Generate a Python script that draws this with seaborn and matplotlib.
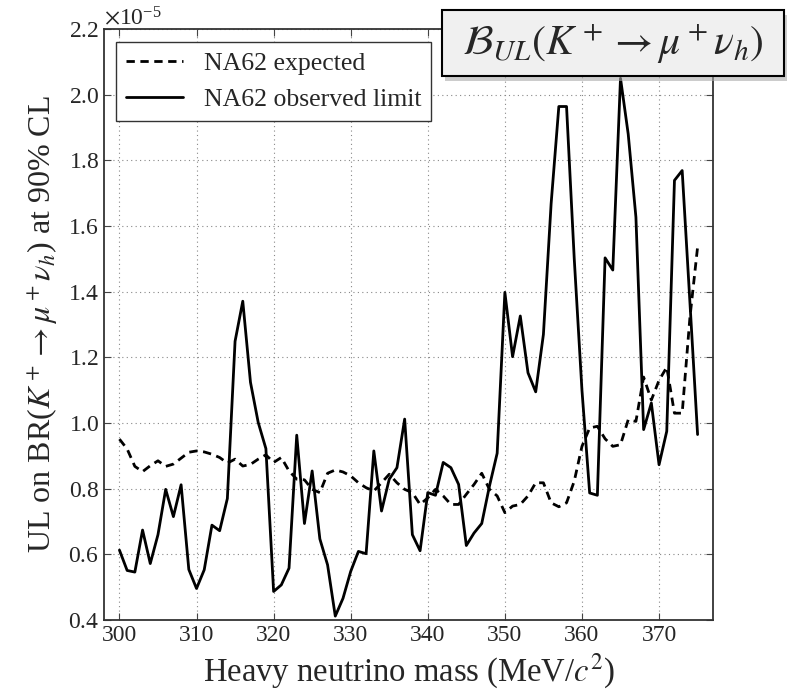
import numpy as np
import pandas as pd
import seaborn as sns
import matplotlib.pyplot as plt
from matplotlib.patches import Rectangle

sns.set_style('ticks')
plt.rcParams['font.family'] = ['Liberation Serif', 'DejaVu Serif']
plt.rcParams['mathtext.fontset'] = 'stix'

# heavy neutrino mass grid (MeV/c^2)
mass = list(range(300, 376))

# UL on BR, in units of 1e-5
observed = [0.613, 0.551, 0.546, 0.674, 0.572, 0.660, 0.798, 0.715, 0.812, 0.554,
            0.496, 0.553, 0.689, 0.672, 0.770, 1.249, 1.371, 1.124, 1.002, 0.922,
            0.487, 0.507, 0.558, 0.963, 0.694, 0.854, 0.647, 0.568, 0.412, 0.466,
            0.548, 0.609, 0.602, 0.915, 0.732, 0.829, 0.864, 1.012, 0.660, 0.611,
            0.788, 0.780, 0.880, 0.864, 0.813, 0.627, 0.665, 0.694, 0.808, 0.908,
            1.398, 1.202, 1.326, 1.153, 1.095, 1.270, 1.668, 1.964, 1.964, 1.500,
            1.100, 0.787, 0.780, 1.503, 1.466, 2.050, 1.880, 1.627, 0.980, 1.061,
            0.873, 0.975, 1.739, 1.769, 1.370, 0.965]

expected = [0.951, 0.921, 0.868, 0.852, 0.870, 0.885, 0.868, 0.875, 0.893, 0.911,
            0.915, 0.912, 0.905, 0.895, 0.878, 0.890, 0.869, 0.874, 0.890, 0.903,
            0.880, 0.895, 0.854, 0.829, 0.827, 0.798, 0.788, 0.847, 0.857, 0.851,
            0.839, 0.818, 0.803, 0.793, 0.818, 0.844, 0.818, 0.798, 0.788, 0.752,
            0.772, 0.798, 0.778, 0.752, 0.752, 0.783, 0.813, 0.847, 0.798, 0.778,
            0.727, 0.747, 0.752, 0.778, 0.818, 0.818, 0.757, 0.745, 0.757, 0.823,
            0.929, 0.985, 0.990, 0.952, 0.929, 0.934, 1.010, 1.005, 1.140, 1.070,
            1.130, 1.170, 1.030, 1.030, 1.320, 1.536]

df = pd.DataFrame({'mass': mass,
                   'expected': np.array(expected) * 1e-5,
                   'observed': np.array(observed) * 1e-5})

fig = plt.figure(figsize=(7.91, 6.91), dpi=100)
ax = fig.add_axes([0.1315, 0.1027, 0.7699, 0.8553])

sns.lineplot(x='mass', y='expected', data=df, ax=ax, color='black', lw=2.0,
             label='NA62 expected')
ax.lines[-1].set_dashes((3, 2))
sns.lineplot(x='mass', y='observed', data=df, ax=ax, color='black', lw=2.0,
             label='NA62 observed limit')

ax.set_xlim(298, 377)
ax.set_ylim(0.4e-5, 2.2e-5)
ax.set_xticks(range(300, 371, 10))
ax.set_yticks(np.arange(0.4, 2.21, 0.2) * 1e-5)
ax.ticklabel_format(axis='y', style='sci', scilimits=(0, 0), useMathText=True)
ax.yaxis.get_offset_text().set_fontsize(17)

ax.grid(True, ls=(0, (1, 3)), color='#888888', lw=0.8)
ax.tick_params(direction='in', top=True, right=True, length=5, labelsize=17,
               color='#444444')
for sp in ax.spines.values():
    sp.set_color('#333333')
    sp.set_linewidth(1.3)

ax.set_xlabel(r'Heavy neutrino mass (MeV/$c^2$)', fontsize=23.5)
ax.set_ylabel(r'UL on BR($K^+ \to \mu^+\nu_h$) at 90% CL', fontsize=23, labelpad=6)

leg = ax.legend(loc='upper left', bbox_to_anchor=(0.02, 0.978), borderaxespad=0,
                fontsize=18.5, fancybox=False, edgecolor='#333333',
                handlelength=2.2, framealpha=1)
leg.get_frame().set_linewidth(1.0)

# boxed label top right, with a drop shadow
fig.add_artist(Rectangle((0.5628, 0.8835), 0.4324, 0.0955, transform=fig.transFigure,
                         facecolor='#aaaaaa', edgecolor='none', alpha=0.6, zorder=5))
fig.add_artist(Rectangle((0.5588, 0.8895), 0.4324, 0.0955, transform=fig.transFigure,
                         facecolor='#f0f0f0', edgecolor='black', lw=1.5, zorder=6))
fig.text(0.775, 0.936, r'$\mathcal{B}_{UL}(K^+ \to \mu^+\nu_h)$', fontsize=30,
         ha='center', va='center', zorder=7)

plt.savefig('out.png', dpi=100)
